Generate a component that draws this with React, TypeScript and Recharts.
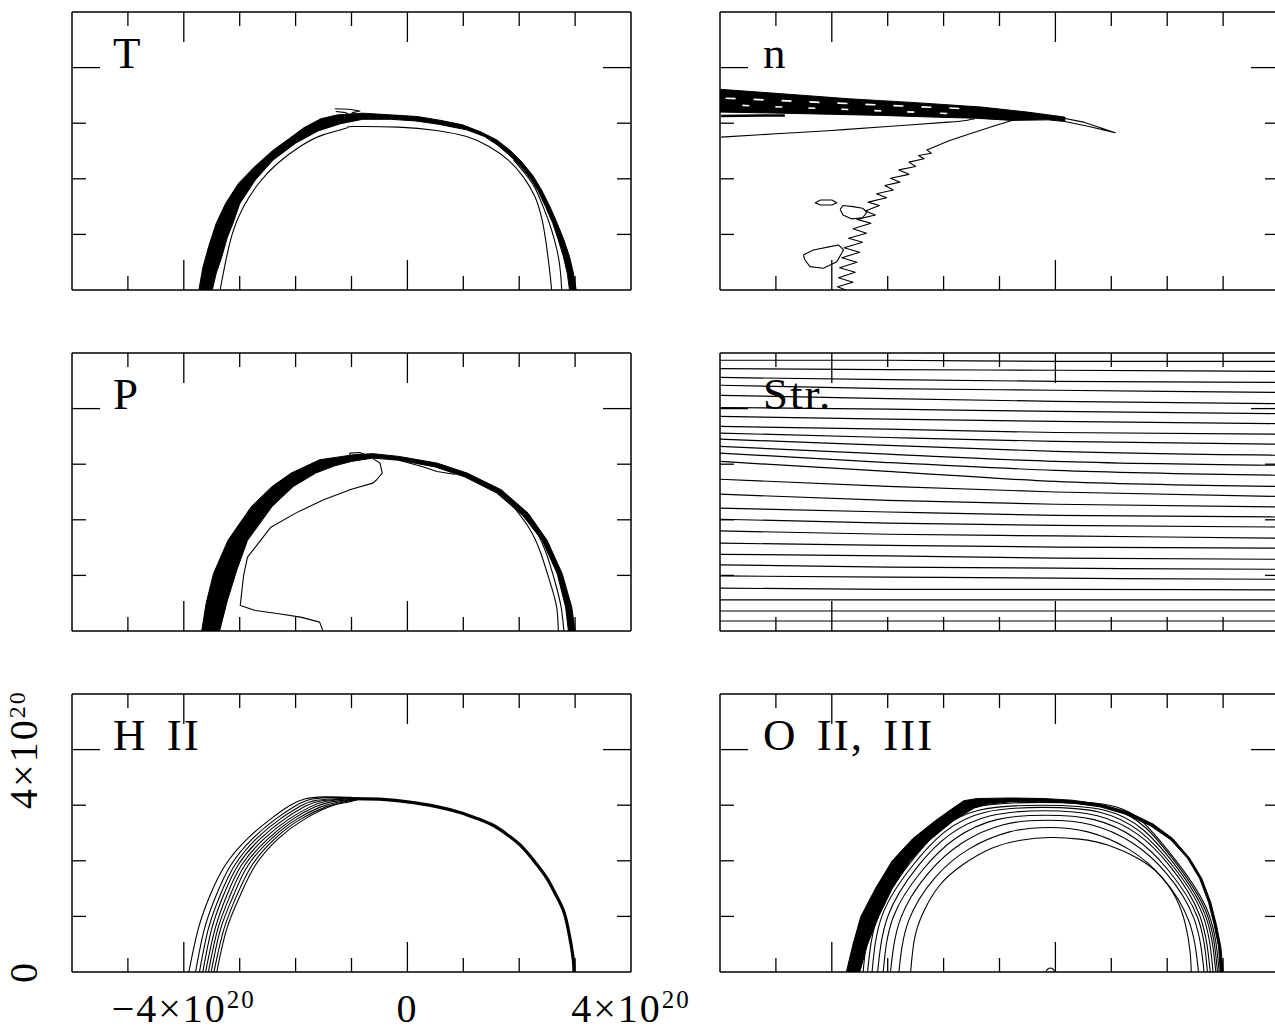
import React from 'react';
import { ScatterChart, Scatter, XAxis, YAxis } from 'recharts';

const FONT = "'Liberation Serif', 'Times New Roman', serif";
const INK = '#000';

// ---------- axes ----------
const X_DOMAIN = [-6, 4];
const Y_DOMAIN = [0, 5];
const X_TICKS = [-6, -5, -4, -3, -2, -1, 0, 1, 2, 3, 4];
const Y_TICKS = [0, 1, 2, 3, 4, 5];
const X_MAJOR = [-4, 0];
const Y_MAJOR = [4];
const X_LABEL_VALUES = [-4, 0, 4];
const X_LABEL_TEXT = ['\u22124\u00d710', '0', '4\u00d710'];
const Y_LABEL_VALUES = [0, 4];
const Y_LABEL_TEXT = ['0', '4\u00d710'];
const EXPONENT = '20';
const TITLES = ['T', 'n', 'P', 'Str.', 'H II', 'O II, III'];

// ---------- T panel ----------
const T_BAND = [
  [-3.73, 0], [-3.66, 0.4], [-3.55, 0.8], [-3.42, 1.2], [-3.25, 1.56], [-3.02, 1.92], [-2.73, 2.22],
  [-2.42, 2.5], [-2.12, 2.72], [-1.85, 2.92], [-1.55, 3.08], [-1.25, 3.15], [-0.8, 3.18], [-0.3, 3.15],
  [0.18, 3.12], [0.6, 3.05], [0.99, 2.97], [1.32, 2.84], [1.6, 2.7], [1.85, 2.5], [2.05, 2.3], [2.25, 2.05],
  [2.4, 1.8], [2.55, 1.5], [2.68, 1.2], [2.8, 0.9], [2.9, 0.6], [2.97, 0.3], [3.02, 0],
  [2.9, 0], [2.86, 0.3], [2.79, 0.6], [2.7, 0.9], [2.6, 1.2], [2.47, 1.5], [2.34, 1.78], [2.2, 2.0],
  [2.03, 2.22], [1.85, 2.4], [1.62, 2.6], [1.38, 2.76], [1.06, 2.88], [0.56, 2.98], [0.15, 3.04],
  [-0.3, 3.07], [-0.8, 3.07], [-1.2, 2.99], [-1.6, 2.86], [-2.0, 2.64], [-2.4, 2.34], [-2.72, 1.98],
  [-3.0, 1.55], [-3.12, 1.2], [-3.22, 0.95], [-3.32, 0.6], [-3.42, 0.3], [-3.49, 0],
];
const T_INNER = [
  [-3.35, 0], [-3.27, 0.42], [-3.13, 1.02], [-2.93, 1.5], [-2.66, 1.92], [-2.32, 2.28], [-1.92, 2.58],
  [-1.51, 2.79], [-1.1, 2.91], [-0.97, 2.94], [-0.16, 2.93], [0.52, 2.87], [1.06, 2.76], [1.46, 2.58],
  [1.8, 2.34], [2.07, 2.04], [2.28, 1.68], [2.41, 1.26], [2.49, 0.78], [2.55, 0.3], [2.58, 0],
];
const T_RIGHT = [
  [1.9, 2.34], [2.1, 2.1], [2.28, 1.84], [2.42, 1.52], [2.54, 1.2], [2.63, 0.9], [2.7, 0.6], [2.74, 0.3], [2.76, 0],
];
const T_TOP = [
  [-1.3, 3.26], [-1.05, 3.25], [-0.85, 3.22], [-0.98, 3.19], [-1.02, 3.14], [-1.1, 3.19], [-1.28, 3.21],
];

// ---------- P panel ----------
const P_BAND = [
  [-3.68, 0], [-3.6, 0.5], [-3.47, 1.03], [-3.21, 1.63], [-2.79, 2.24], [-2.42, 2.6], [-2.08, 2.84],
  [-1.57, 3.08], [-0.96, 3.17], [-0.62, 3.19], [-0.15, 3.14], [0.53, 3.02], [1.07, 2.84], [1.68, 2.54],
  [2.16, 2.12], [2.5, 1.63], [2.77, 1.03], [2.94, 0.43], [3.0, 0],
  [2.88, 0], [2.83, 0.43], [2.68, 1.03], [2.41, 1.63], [2.06, 2.08], [1.6, 2.48], [1.03, 2.77],
  [0.5, 2.95], [-0.15, 3.07], [-0.62, 3.11], [-1.0, 3.05], [-1.3, 2.97], [-1.64, 2.84], [-2.04, 2.6],
  [-2.42, 2.24], [-2.86, 1.63], [-3.05, 1.1], [-3.22, 0.55], [-3.36, 0],
];
const P_RIGHT_A = [[1.75, 2.42], [2.16, 1.88], [2.39, 1.39], [2.56, 0.85], [2.67, 0.43], [2.7, 0]];
const P_RIGHT_B = [[2.0, 2.2], [2.3, 1.8], [2.5, 1.35], [2.65, 0.85], [2.75, 0.43], [2.8, 0]];
const P_INTERIOR = [
  [-0.62, 3.1], [-0.49, 3.02], [-0.45, 2.84], [-0.55, 2.72], [-0.62, 2.66], [-1.0, 2.55], [-1.5, 2.36],
  [-2.0, 2.12], [-2.45, 1.86], [-2.72, 1.51], [-2.86, 1.33], [-2.93, 1.0], [-2.96, 0.73], [-2.99, 0.46],
  [-2.72, 0.37], [-2.3, 0.31], [-1.91, 0.25], [-1.57, 0.16], [-1.51, 0],
];
const P_TOPLINE = [[-0.15, 3.07], [0.26, 2.96], [0.53, 2.87], [0.84, 2.82], [0.9, 2.86]];
const P_BUMP = [[-1.03, 3.15], [-1.03, 3.2], [-0.85, 3.21], [-0.78, 3.18]];

// ---------- H II panel ----------
const H_L1 = [[-3.91, 0], [-3.74, 0.78], [-3.53, 1.38], [-3.26, 1.92], [-2.86, 2.4], [-2.45, 2.75], [-2.11, 2.99], [-1.84, 3.11], [-1.5, 3.15], [-1.0, 3.14]];
const H_L2 = [[-3.79, 0], [-3.63, 0.78], [-3.42, 1.38], [-3.16, 1.92], [-2.77, 2.4], [-2.36, 2.75], [-2.0, 2.99], [-1.7, 3.11], [-1.3, 3.14], [-1.0, 3.13]];
const H_L3 = [[-3.72, 0], [-3.56, 0.78], [-3.35, 1.38], [-3.09, 1.92], [-2.7, 2.4], [-2.28, 2.75], [-1.92, 2.98], [-1.62, 3.09], [-1.0, 3.13]];
const H_L4 = [[-3.66, 0], [-3.5, 0.78], [-3.29, 1.38], [-3.03, 1.92], [-2.63, 2.4], [-2.2, 2.75], [-1.83, 2.98], [-1.53, 3.08], [-1.0, 3.12]];
const H_L5 = [[-3.61, 0], [-3.44, 0.78], [-3.23, 1.38], [-2.97, 1.92], [-2.56, 2.4], [-2.12, 2.75], [-1.74, 2.97], [-1.45, 3.07], [-1.0, 3.12]];
const H_L6 = [[-3.56, 0], [-3.39, 0.78], [-3.17, 1.38], [-2.91, 1.92], [-2.49, 2.4], [-2.05, 2.75], [-1.65, 2.97], [-1.36, 3.06], [-0.95, 3.11]];
const H_L7 = [[-3.51, 0], [-3.34, 0.78], [-3.11, 1.38], [-2.85, 1.92], [-2.43, 2.4], [-1.98, 2.75], [-1.55, 2.97], [-1.27, 3.05], [-0.95, 3.11]];
const H_L8 = [[-3.46, 0], [-3.28, 0.78], [-3.05, 1.38], [-2.78, 1.92], [-2.37, 2.4], [-1.91, 2.75], [-1.46, 2.97], [-1.18, 3.05], [-0.9, 3.1]];
const H_L9 = [[-3.41, 0], [-3.23, 0.78], [-2.99, 1.38], [-2.72, 1.92], [-2.31, 2.4], [-1.84, 2.75], [-1.37, 2.98], [-1.09, 3.05], [-0.9, 3.1]];
const H_FRONT = [
  [-1.05, 3.12], [-0.5, 3.11], [0.0, 3.06], [0.5, 2.98], [0.94, 2.87], [1.25, 2.76], [1.55, 2.63], [1.8, 2.46],
  [2.02, 2.28], [2.28, 1.98], [2.5, 1.68], [2.66, 1.38], [2.8, 1.08], [2.88, 0.75], [2.93, 0.48], [2.97, 0.2], [2.98, 0],
];

// ---------- n panel ----------
const N_WEDGE = [
  [-6, 3.61], [-4.9, 3.53], [-3.7, 3.44], [-2.5, 3.37], [-1.32, 3.29], [-0.5, 3.2], [0.17, 3.11],
  [0.17, 3.03], [-0.13, 3.06], [-0.78, 3.05], [-1.44, 3.09], [-2.2, 3.11], [-3.11, 3.14], [-4.0, 3.16],
  [-4.9, 3.18], [-6, 3.2],
];
const N_SPIKE = [[0.0, 3.12], [0.5, 3.02], [1.07, 2.83], [0.6, 2.94], [0.17, 3.03]];
const N_WHITE_A = [[-5.9, 3.45], [-1.4, 3.25]];
const N_WHITE_B = [[-5.6, 3.32], [-1.8, 3.17]];
const N_LOWER = [[-5.98, 2.75], [-5.0, 2.81], [-4.0, 2.87], [-3.0, 2.94], [-1.92, 3.02], [-1.6, 3.05], [-1.44, 3.08]];
const N_BAR = [[-5.98, 3.13], [-4.84, 3.14]];
const N_JAG = [
  [-0.78, 3.05], [-1.1, 2.95], [-1.5, 2.82], [-1.89, 2.69], [-2.15, 2.58], [-2.3, 2.52], [-2.22, 2.46],
  [-2.45, 2.42], [-2.35, 2.36], [-2.62, 2.3], [-2.5, 2.22], [-2.8, 2.16], [-2.62, 2.08], [-2.95, 2.01],
  [-2.78, 1.94], [-3.05, 1.88], [-2.9, 1.8], [-3.2, 1.73], [-3.02, 1.66], [-3.35, 1.58], [-3.15, 1.52],
  [-3.4, 1.42], [-3.22, 1.35], [-3.55, 1.27], [-3.3, 1.2], [-3.62, 1.1], [-3.38, 1.02], [-3.7, 0.93],
  [-3.45, 0.86], [-3.78, 0.76], [-3.5, 0.68], [-3.82, 0.58], [-3.55, 0.5], [-3.86, 0.4], [-3.58, 0.32],
  [-3.88, 0.22], [-3.62, 0.14], [-3.9, 0.06], [-3.75, 0.0],
];
const N_BLOB = [[-4.51, 0.63], [-4.33, 0.72], [-4.03, 0.78], [-3.88, 0.81], [-3.79, 0.72], [-3.91, 0.51], [-4.15, 0.39], [-4.39, 0.42], [-4.48, 0.54], [-4.51, 0.63]];
const N_BLOB2 = [[-3.85, 1.45], [-3.8, 1.52], [-3.62, 1.5], [-3.45, 1.47], [-3.37, 1.4], [-3.45, 1.3], [-3.65, 1.28], [-3.8, 1.35], [-3.85, 1.45]];
const N_OVAL = [[-4.3, 1.57], [-4.2, 1.62], [-4.0, 1.62], [-3.91, 1.57], [-4.0, 1.53], [-4.2, 1.53], [-4.3, 1.57]];

// ---------- Streamlines ----------
const STR_X = [-6, -3, 0, 4];
const STR_Y = [
  [4.87, 4.87, 4.85, 4.85], [4.72, 4.7, 4.69, 4.67], [4.56, 4.52, 4.49, 4.47], [4.42, 4.36, 4.33, 4.29],
  [4.24, 4.18, 4.13, 4.09], [4.02, 3.99, 3.95, 3.91], [3.86, 3.81, 3.77, 3.73], [3.68, 3.63, 3.57, 3.54],
  [3.56, 3.48, 3.41, 3.36], [3.45, 3.34, 3.23, 3.16], [3.32, 3.18, 3.05, 2.98], [3.2, 3.03, 2.89, 2.8],
  [3.05, 2.87, 2.69, 2.6], [2.73, 2.6, 2.5, 2.42], [2.46, 2.35, 2.28, 2.23], [2.21, 2.14, 2.08, 2.05],
  [2.01, 1.94, 1.9, 1.87], [1.8, 1.74, 1.71, 1.67], [1.58, 1.54, 1.51, 1.49], [1.38, 1.35, 1.31, 1.29],
  [1.19, 1.15, 1.13, 1.11], [0.99, 0.97, 0.95, 0.93], [0.77, 0.75, 0.75, 0.74], [0.56, 0.56, 0.56, 0.56],
  [0.36, 0.36, 0.36, 0.36], [0.18, 0.18, 0.18, 0.18],
];

// ---------- O II, III panel ----------
const O_BAND = [
  [-3.74, 0], [-3.62, 0.5], [-3.48, 1.0], [-3.22, 1.5], [-2.92, 2.0], [-2.55, 2.4], [-2.15, 2.72],
  [-1.8, 2.97], [-1.64, 3.08], [-1.4, 3.12], [-0.8, 3.13], [-0.2, 3.12], [0.3, 3.09], [0.8, 3.02],
  [1.3, 2.88], [1.75, 2.66], [2.1, 2.4], [2.4, 2.05], [2.62, 1.68], [2.78, 1.25], [2.88, 0.85], [2.96, 0.45], [3.0, 0],
  [2.95, 0], [2.92, 0.45], [2.84, 0.85], [2.74, 1.25], [2.58, 1.68], [2.36, 2.05], [2.06, 2.38],
  [1.7, 2.63], [1.25, 2.84], [0.8, 2.97], [0.3, 3.04], [-0.2, 3.06], [-0.8, 3.06], [-1.2, 3.02],
  [-1.45, 2.95], [-1.8, 2.74], [-2.24, 2.38], [-2.6, 2.0], [-2.92, 1.5], [-3.16, 1.0], [-3.36, 0.5], [-3.5, 0],
];
const O_C1 = [[-2.59, 0], [-2.52, 0.6], [-2.36, 1.08], [-2.07, 1.56], [-1.67, 1.92], [-1.15, 2.22], [-0.62, 2.37], [-0.1, 2.42], [0.43, 2.39], [0.95, 2.28], [1.48, 2.04], [1.87, 1.74], [2.16, 1.32], [2.33, 0.84], [2.41, 0.36], [2.43, 0]];
const O_C2 = [[-2.8, 0], [-2.63, 0.91], [-2.16, 1.69], [-1.55, 2.21], [-0.82, 2.52], [-0.12, 2.6], [0.58, 2.52], [1.31, 2.21], [1.92, 1.69], [2.39, 0.91], [2.56, 0]];
const O_C3 = [[-2.95, 0], [-2.77, 0.96], [-2.28, 1.77], [-1.67, 2.32], [-0.93, 2.65], [-0.15, 2.73], [0.64, 2.65], [1.38, 2.32], [1.99, 1.77], [2.48, 0.96], [2.66, 0]];
const O_C4 = [[-3.08, 0], [-2.9, 0.99], [-2.38, 1.83], [-1.79, 2.4], [-1.05, 2.74], [-0.18, 2.82], [0.69, 2.74], [1.43, 2.4], [2.02, 1.83], [2.54, 0.99], [2.72, 0]];
const O_C5 = [[-3.18, 0], [-2.99, 1.02], [-2.47, 1.89], [-1.89, 2.47], [-1.16, 2.81], [-0.2, 2.9], [0.75, 2.81], [1.48, 2.47], [2.06, 1.89], [2.58, 1.02], [2.77, 0]];
const O_C6 = [[-3.28, 0], [-3.09, 1.04], [-2.55, 1.92], [-1.98, 2.52], [-1.27, 2.87], [-0.23, 2.96], [0.81, 2.87], [1.52, 2.52], [2.09, 1.92], [2.63, 1.04], [2.82, 0]];
const O_C7 = [[-3.36, 0], [-3.16, 1.05], [-2.61, 1.95], [-2.07, 2.55], [-1.37, 2.91], [-0.25, 3.0], [0.88, 2.91], [1.58, 2.55], [2.12, 1.95], [2.67, 1.05], [2.87, 0]];
const O_C8 = [[-3.44, 0], [-3.24, 1.07], [-2.68, 1.98], [-2.16, 2.59], [-1.47, 2.96], [-0.27, 3.05], [0.93, 2.96], [1.62, 2.59], [2.14, 1.98], [2.7, 1.07], [2.9, 0]];
const O_C9 = [[-3.51, 0], [-3.31, 1.08], [-2.74, 2.0], [-2.22, 2.62], [-1.58, 2.99], [-0.29, 3.08], [1.0, 2.99], [1.64, 2.62], [2.16, 2.0], [2.73, 1.08], [2.93, 0]];
const O_BUMP = [[-0.17, 0], [-0.13, 0.06], [-0.05, 0.06], [-0.01, 0]];

// ---------- rendering ----------
type Series = { pts: number[][]; w?: number; fill?: boolean; color?: string; dash?: string; curve?: string };

const PLOT_W = 559;
const PLOT_H = 278;
const AX = 1; // room reserved for each axis (must be > 0 for recharts to draw it)
const LONG = 30;
const SHORT = 14;
const TICK_W = 1.3;
const NoShape = () => null;

function makeTicks(title: string, withLabels: boolean, titleOffset: number) {
  const bottom = (p: any) => {
    const v = p.payload.value;
    const li = X_LABEL_VALUES.indexOf(v);
    return (
      <g>
        {v > X_DOMAIN[0] && v < X_DOMAIN[1] && (
          <line x1={p.x} x2={p.x} y1={p.y} y2={p.y - (X_MAJOR.includes(v) ? LONG : SHORT)} stroke={INK} strokeWidth={TICK_W} />
        )}
        {withLabels && li >= 0 && (
          <text x={p.x} y={p.y + 50} textAnchor="middle" fontFamily={FONT} fontSize={40} fill={INK} letterSpacing={2}>
            <tspan>{X_LABEL_TEXT[li]}</tspan>
            {X_LABEL_TEXT[li] !== '0' && <tspan dy={-14} fontSize={25}>{EXPONENT}</tspan>}
          </text>
        )}
      </g>
    );
  };
  const top = (p: any) => {
    const v = p.payload.value;
    if (!(v > X_DOMAIN[0] && v < X_DOMAIN[1])) return <g />;
    return <line x1={p.x} x2={p.x} y1={p.y} y2={p.y + (X_MAJOR.includes(v) ? LONG : SHORT)} stroke={INK} strokeWidth={TICK_W} />;
  };
  const left = (p: any) => {
    const v = p.payload.value;
    const li = Y_LABEL_VALUES.indexOf(v);
    const bx = p.x - 35;
    return (
      <g>
        {v > Y_DOMAIN[0] && v < Y_DOMAIN[1] && (
          <line x1={p.x} x2={p.x + (Y_MAJOR.includes(v) ? LONG - 2 : SHORT)} y1={p.y} y2={p.y} stroke={INK} strokeWidth={TICK_W} />
        )}
        {v === 4 && (
          <text x={p.x + titleOffset} y={p.y} fontFamily={FONT} fontSize={45} fill={INK} letterSpacing={2} wordSpacing={6} style={{ whiteSpace: 'pre' }}>
            {title}
          </text>
        )}
        {withLabels && li >= 0 && (
          <text x={bx} y={p.y} transform={`rotate(-90 ${bx} ${p.y})`} textAnchor="middle" fontFamily={FONT} fontSize={40} fill={INK} letterSpacing={2}>
            <tspan>{Y_LABEL_TEXT[li]}</tspan>
            {Y_LABEL_TEXT[li] !== '0' && <tspan dy={-12} fontSize={24}>{EXPONENT}</tspan>}
          </text>
        )}
      </g>
    );
  };
  const right = (p: any) => {
    const v = p.payload.value;
    if (!(v > Y_DOMAIN[0] && v < Y_DOMAIN[1])) return <g />;
    return <line x1={p.x} x2={p.x - (Y_MAJOR.includes(v) ? LONG - 2 : SHORT)} y1={p.y} y2={p.y} stroke={INK} strokeWidth={TICK_W} />;
  };
  return { bottom, top, left, right };
}

function Panel({ x0, y0, title, series, labels, titleOffset }: { x0: number; y0: number; title: string; series: Series[]; labels?: boolean; titleOffset: number }) {
  const margin = labels ? { top: 30, right: 85, bottom: 60, left: 71 } : { top: 0, right: 0, bottom: 0, left: 0 };
  const w = PLOT_W + 2 * AX + margin.left + margin.right;
  const h = PLOT_H + 2 * AX + margin.top + margin.bottom;
  const t = makeTicks(title, !!labels, titleOffset);
  const axisLine = { stroke: INK, strokeWidth: 1.5 };
  return (
    <div style={{ position: 'absolute', left: x0 - margin.left - AX, top: y0 - margin.top - AX, width: w, height: h }}>
      <ScatterChart width={w} height={h} margin={margin}>
        <XAxis xAxisId="b" type="number" dataKey="x" orientation="bottom" domain={X_DOMAIN} ticks={X_TICKS} interval={0}
          allowDataOverflow height={AX} tickSize={0} tickMargin={0} tickLine={false} axisLine={axisLine} tick={t.bottom} />
        <XAxis xAxisId="t" type="number" dataKey="x" orientation="top" domain={X_DOMAIN} ticks={X_TICKS} interval={0}
          allowDataOverflow height={AX} tickSize={0} tickMargin={0} tickLine={false} axisLine={axisLine} tick={t.top} />
        <YAxis yAxisId="l" type="number" dataKey="y" orientation="left" domain={Y_DOMAIN} ticks={Y_TICKS} interval={0}
          allowDataOverflow width={AX} tickSize={0} tickMargin={0} tickLine={false} axisLine={axisLine} tick={t.left} />
        <YAxis yAxisId="r" type="number" dataKey="y" orientation="right" domain={Y_DOMAIN} ticks={Y_TICKS} interval={0}
          allowDataOverflow width={AX} tickSize={0} tickMargin={0} tickLine={false} axisLine={axisLine} tick={t.right} />
        {series.map((s, i) => (
          <Scatter
            key={i}
            xAxisId="b"
            yAxisId="l"
            data={s.pts.map(([x, y]) => ({ x, y }))}
            isAnimationActive={false}
            shape={NoShape}
            lineJointType={(s.curve ?? 'linear') as any}
            line={{
              stroke: s.color ?? INK,
              strokeWidth: s.w ?? 1.1,
              fill: s.fill ? s.color ?? INK : 'none',
              strokeDasharray: s.dash,
              strokeLinejoin: 'round',
            } as any}
          />
        ))}
      </ScatterChart>
    </div>
  );
}

const LEFT_X = 72;
const RIGHT_X = 720;
const ROW_Y = [12, 353, 694];

export default function App() {
  const tSeries: Series[] = [
    { pts: T_BAND, fill: true, w: 1 },
    { pts: T_INNER, curve: 'natural' },
    { pts: T_RIGHT, curve: 'natural' },
    { pts: T_TOP },
  ];
  const pSeries: Series[] = [
    { pts: P_BAND, fill: true, w: 1 },
    { pts: P_RIGHT_A, curve: 'natural' },
    { pts: P_RIGHT_B, curve: 'natural' },
    { pts: P_INTERIOR },
    { pts: P_TOPLINE },
    { pts: P_BUMP },
  ];
  const hSeries: Series[] = [
    ...[H_L1, H_L2, H_L3, H_L4, H_L5, H_L6, H_L7, H_L8, H_L9].map((pts) => ({ pts, curve: 'natural', w: 1.1 })),
    { pts: H_FRONT, curve: 'natural', w: 3.2 },
  ];
  const nSeries: Series[] = [
    { pts: N_WEDGE, fill: true, w: 1 },
    { pts: N_WHITE_A, color: '#fff', w: 1.6, dash: '10 18' },
    { pts: N_WHITE_B, color: '#fff', w: 1.6, dash: '7 26' },
    { pts: N_SPIKE },
    { pts: N_LOWER, curve: 'natural' },
    { pts: N_BAR, w: 2.5 },
    { pts: N_JAG },
    { pts: N_BLOB },
    { pts: N_BLOB2 },
    { pts: N_OVAL },
  ];
  const sSeries: Series[] = STR_Y.map((row) => ({
    pts: row.map((y, j) => [STR_X[j], y]),
    curve: 'monotoneX',
    w: 1.2,
  }));
  const oSeries: Series[] = [
    { pts: O_BAND, fill: true, w: 1 },
    ...[O_C1, O_C2, O_C3, O_C4, O_C5, O_C6, O_C7, O_C8, O_C9].map((pts) => ({ pts, curve: 'natural', w: 1.1 })),
    { pts: O_BUMP, curve: 'natural' },
  ];

  return (
    <div style={{ position: 'fixed', left: 0, top: 0, width: 1275, height: 1032, overflow: 'hidden', background: '#fff' }}>
      <Panel x0={LEFT_X} y0={ROW_Y[0]} title={TITLES[0]} series={tSeries} titleOffset={41} />
      <Panel x0={RIGHT_X} y0={ROW_Y[0]} title={TITLES[1]} series={nSeries} titleOffset={43} />
      <Panel x0={LEFT_X} y0={ROW_Y[1]} title={TITLES[2]} series={pSeries} titleOffset={41} />
      <Panel x0={RIGHT_X} y0={ROW_Y[1]} title={TITLES[3]} series={sSeries} titleOffset={43} />
      <Panel x0={RIGHT_X} y0={ROW_Y[2]} title={TITLES[5]} series={oSeries} titleOffset={43} />
      <Panel x0={LEFT_X} y0={ROW_Y[2]} title={TITLES[4]} series={hSeries} labels titleOffset={41} />
    </div>
  );
}
